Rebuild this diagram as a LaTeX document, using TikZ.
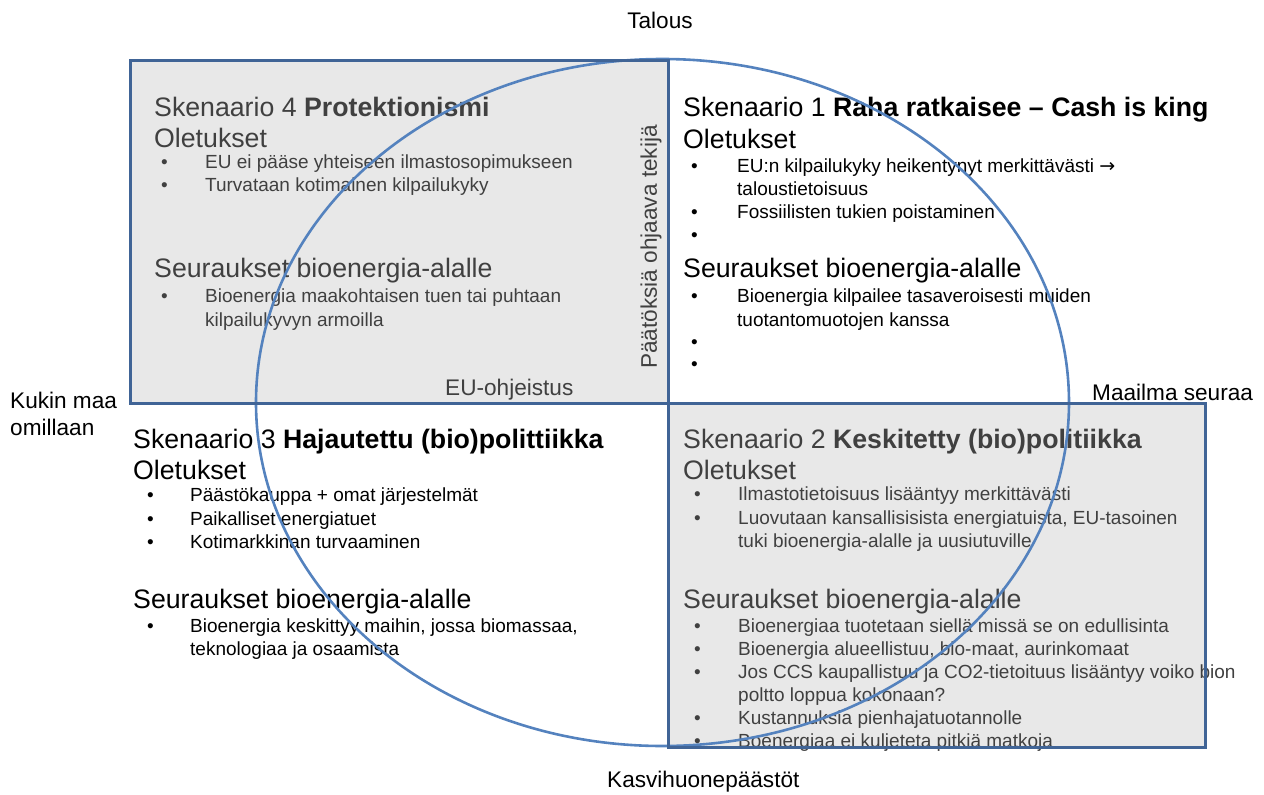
\documentclass[tikz,border=0pt]{standalone}
\usepackage{fontspec}
\setmainfont{Liberation Sans}
\newfontfamily\symfont{DejaVu Sans}
\usetikzlibrary{shapes.geometric}
\definecolor{boxblue}{RGB}{64,100,150}
\definecolor{ringblue}{RGB}{84,130,190}
\definecolor{panelgray}{RGB}{232,232,232}
\definecolor{graytext}{RGB}{64,64,64}
\tikzset{
  hdr/.style={anchor=base west, inner sep=0pt, text depth=5.5pt, font=\fontsize{26.7}{30}\selectfont},
  nodesc/.style={text depth=0.5pt},
  itm/.style={anchor=base west, inner sep=0pt, text height=13.5pt, text depth=4pt, font=\fontsize{19}{24}\selectfont},
  lbl/.style={inner sep=0pt, font=\fontsize{22.6}{27}\selectfont},
  panel/.style={fill=panelgray, draw=none, inner sep=0pt, outer sep=0pt},
  frame/.style={draw=boxblue, line width=3pt},
  ring/.style={draw=ringblue, line width=2.6pt, ellipse, inner sep=0pt,
    minimum width=813pt, minimum height=687pt},
}
% a bullet dot plus its text: name, x of dot, x of text, baseline, text
\newcommand\bulletline[6][]{%
  \node[itm,#1] (#2dot) at (#3,#5) {•};
  \node[itm,#1] (#2) at (#4,#5) {#6};}
\newcommand\moreline[5][]{%
  \node[itm,#1] (#2) at (#3,#4) {#5};}
\begin{document}
\begin{tikzpicture}[x=1pt,y=-1pt]
\useasboundingbox (0,0) rectangle (1264,795);

% shaded quadrants
\node[panel, minimum width=538pt, minimum height=343pt, anchor=north west] (q4) at (130,60) {};
\node[panel, minimum width=537pt, minimum height=344pt, anchor=north west] (q2) at (668,403) {};

% axis labels
\node[lbl] (top) at (660,20) {Talous};
\node[lbl, anchor=base west] (bottom) at (607,787) {Kasvihuonepäästöt};
\node[lbl, anchor=base west] (left1) at (10,408) {Kukin maa};
\node[lbl, anchor=base west] (left2) at (10,435) {omillaan};
\node[lbl, anchor=base west] (right) at (1092,400) {Maailma seuraa};
\node[lbl, anchor=base west, text=graytext] (eu) at (445,395) {EU-ohjeistus};
\node[lbl, rotate=90, text=graytext] (driver) at (651,247) {Päätöksiä ohjaava tekijä};

% Scenario 4
\node[hdr, text=graytext] (s4) at (154,116) {Skenaario 4 \textbf{Protektionismi}};
\node[hdr, nodesc, text=graytext] (s4o) at (154,147) {Oletukset};
\bulletline[text=graytext]{s4a}{161}{205}{168}{EU ei pääse yhteiseen ilmastosopimukseen}
\bulletline[text=graytext]{s4b}{161}{205}{191}{Turvataan kotimainen kilpailukyky}
\node[hdr, text=graytext] (s4s) at (154,277) {Seuraukset bioenergia-alalle};
\bulletline[text=graytext]{s4c}{161}{205}{302}{Bioenergia maakohtaisen tuen tai puhtaan}
\moreline[text=graytext]{s4d}{205}{326}{kilpailukyvyn armoilla}

% Scenario 1
\node[hdr] (s1) at (683,116) {Skenaario 1 \textbf{Raha ratkaisee – Cash is king}};
\node[hdr, nodesc] (s1o) at (683,148) {Oletukset};
\bulletline{s1a}{691}{737}{172}{EU:n kilpailukyky heikentynyt merkittävästi {\symfont →}}
\moreline{s1b}{737}{195}{taloustietoisuus}
\bulletline{s1c}{691}{737}{218}{Fossiilisten tukien poistaminen}
\bulletline{s1d}{691}{737}{241}{}
\node[hdr] (s1s) at (683,277) {Seuraukset bioenergia-alalle};
\bulletline{s1e}{691}{737}{302}{Bioenergia kilpailee tasaveroisesti muiden}
\moreline{s1f}{737}{326}{tuotantomuotojen kanssa}
\bulletline{s1g}{691}{737}{348}{}
\bulletline{s1h}{691}{737}{370}{}

% Scenario 3
\node[hdr] (s3) at (133,448) {Skenaario 3 \textbf{Hajautettu (bio)polittiikka}};
\node[hdr, nodesc] (s3o) at (133,479) {Oletukset};
\bulletline{s3a}{147}{190}{501}{Päästökauppa + omat järjestelmät}
\bulletline{s3b}{147}{190}{525}{Paikalliset energiatuet}
\bulletline{s3c}{147}{190}{548}{Kotimarkkinan turvaaminen}
\node[hdr] (s3s) at (133,608) {Seuraukset bioenergia-alalle};
\bulletline{s3d}{147}{190}{632}{Bioenergia keskittyy maihin, jossa biomassaa,}
\moreline{s3e}{190}{655}{teknologiaa ja osaamista}

% Scenario 2
\node[hdr, text=graytext] (s2) at (683,448) {Skenaario 2 \textbf{Keskitetty (bio)politiikka}};
\node[hdr, nodesc, text=graytext] (s2o) at (683,479) {Oletukset};
\bulletline[text=graytext]{s2a}{694}{738}{500}{Ilmastotietoisuus lisääntyy merkittävästi}
\bulletline[text=graytext]{s2b}{694}{738}{524}{Luovutaan kansallisisista energiatuista, EU-tasoinen}
\moreline[text=graytext]{s2c}{738}{547}{tuki bioenergia-alalle ja uusiutuville}
\node[hdr, text=graytext] (s2s) at (683,608) {Seuraukset bioenergia-alalle};
\bulletline[text=graytext]{s2d}{694}{738}{632}{Bioenergiaa tuotetaan siellä missä se on edullisinta}
\bulletline[text=graytext]{s2e}{694}{738}{655}{Bioenergia alueellistuu, bio-maat, aurinkomaat}
\bulletline[text=graytext]{s2f}{694}{738}{678}{Jos CCS kaupallistuu ja CO2-tietoituus lisääntyy voiko bion}
\moreline[text=graytext]{s2g}{738}{701}{poltto loppua kokonaan?}
\bulletline[text=graytext]{s2h}{694}{738}{724}{Kustannuksia pienhajatuotannolle}
\bulletline[text=graytext]{s2i}{694}{738}{747}{Boenergiaa ei kuljeteta pitkiä matkoja}

% the ring and the quadrant frames on top
\node[ring] (ring) at (662.5,402.5) {};
\draw[frame] (q4.north west) rectangle (q4.south east);
\draw[frame] (q2.north west) rectangle (q2.south east);
\end{tikzpicture}
\end{document}
